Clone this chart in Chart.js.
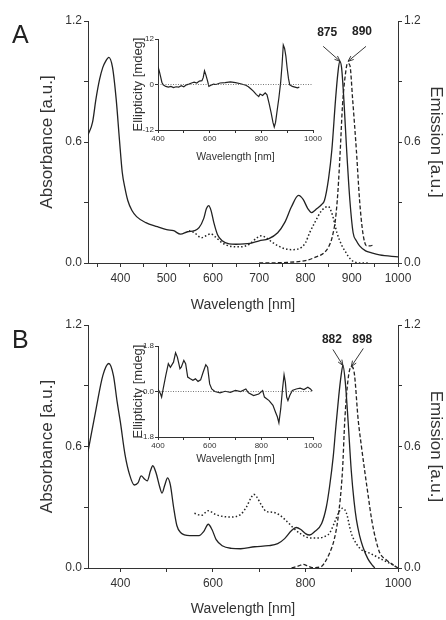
<!DOCTYPE html>
<html>
<head>
<meta charset="utf-8">
<script src="https://cdn.jsdelivr.net/npm/chart.js@4/dist/chart.umd.min.js"></script>
<style>
  html, body { margin: 0; padding: 0; background: #fff; }
  #wrap { position: relative; width: 446px; height: 620px; overflow: hidden; background: #fff; }
  canvas { position: absolute; }
  .panel { position: absolute; font-family: 'Liberation Sans', Arial, sans-serif; font-size: 25px; line-height: 25px; color: #222; }
</style>
</head>
<body>
<div id="wrap">
  <canvas id="mainA" width="446" height="320" style="left:0;top:0"></canvas>
  <canvas id="mainB" width="446" height="320" style="left:0;top:300px"></canvas>
  <canvas id="insetA" width="225" height="145" style="left:100px;top:25px"></canvas>
  <canvas id="insetB" width="225" height="145" style="left:100px;top:330px"></canvas>
  <div class="panel" style="left:12px;top:22px">A</div>
  <div class="panel" style="left:12px;top:327px">B</div>
</div>
<script>
// ---------------- DATA ----------------
// Panel A – absorbance (solid)
const absA_nm  = [330,340,347,355,362,368,375,383,391,398,404,410,416,425,435,455,480,500,515,530,545,560,570,580,586,591,596,602,610,620,635,650,680,700,720,740,755,770,785,795,805,813,825,835,841,850,857,865,870,874,878,883,889,896,903,910,917,930,943,960,1000];
const absA_val = [0.635,0.70,0.81,0.91,0.97,1.00,1.02,0.97,0.81,0.61,0.45,0.37,0.31,0.26,0.23,0.20,0.18,0.165,0.16,0.143,0.155,0.16,0.175,0.22,0.27,0.285,0.26,0.2,0.14,0.11,0.095,0.093,0.097,0.11,0.12,0.15,0.2,0.28,0.335,0.315,0.27,0.25,0.27,0.29,0.31,0.42,0.56,0.81,0.94,1.0,0.97,0.81,0.56,0.31,0.15,0.11,0.085,0.06,0.05,0.04,0.03];
// Panel A – excitation (dotted)
const excA_nm  = [548,560,575,585,595,605,620,640,660,680,695,705,715,730,750,770,785,800,809,820,835,849,858,868,878,888,897,906,920,935];
const excA_val = [0.16,0.15,0.125,0.135,0.145,0.13,0.10,0.082,0.08,0.095,0.125,0.135,0.125,0.10,0.075,0.066,0.07,0.10,0.15,0.20,0.26,0.28,0.24,0.15,0.09,0.05,0.02,0.005,0.0,0.0];
// Panel A – emission (dashed)
const emA_nm  = [700,760,800,823,840,850,858,865,870,875,880,886,891,896,902,910,917,924,932,940,947];
const emA_val = [0.0,0.003,0.012,0.03,0.05,0.08,0.13,0.22,0.35,0.55,0.78,0.93,0.99,0.98,0.81,0.56,0.31,0.15,0.085,0.085,0.09];

// Panel B – absorbance (solid)
const absB_nm  = [330,347,362,375,385,393,400,410,420,430,438,445,452,458,465,470,477,485,490,496,502,508,515,522,530,550,570,580,590,598,607,620,640,660,690,720,740,755,770,780,790,800,809,820,835,845,852,860,865,872,877,881,886,892,899,905,910,917,924,935,946,950];
const absB_val = [0.575,0.78,0.95,1.01,0.95,0.82,0.72,0.56,0.46,0.41,0.42,0.455,0.44,0.43,0.48,0.505,0.47,0.40,0.37,0.41,0.445,0.41,0.30,0.21,0.175,0.16,0.16,0.18,0.216,0.19,0.14,0.11,0.097,0.095,0.105,0.11,0.12,0.145,0.185,0.20,0.19,0.17,0.163,0.18,0.22,0.30,0.40,0.55,0.68,0.85,0.95,1.0,0.92,0.73,0.48,0.33,0.24,0.16,0.105,0.045,0.01,0.0];
// Panel B – excitation (dotted)
const excB_nm  = [560,575,590,605,620,640,660,672,682,688,695,705,715,730,745,760,775,790,811,830,845,852,862,872,880,888,899,910,921,939,967,985,1000];
const excB_val = [0.27,0.26,0.283,0.265,0.255,0.252,0.265,0.30,0.345,0.364,0.35,0.31,0.28,0.275,0.26,0.23,0.195,0.168,0.148,0.148,0.16,0.172,0.22,0.275,0.295,0.275,0.172,0.12,0.09,0.073,0.04,0.02,0.0];
// Panel B – emission (dashed)
const emB_nm  = [770,785,795,805,815,834,845,852,862,870,880,885,892,899,905,914,921,928,936,943,952,961,975,993,1000];
const emB_val = [0.0,0.01,0.018,0.01,0.002,0.007,0.04,0.073,0.14,0.24,0.48,0.73,0.93,0.995,0.97,0.73,0.60,0.48,0.35,0.24,0.14,0.073,0.04,0.01,0.0];

// Inset A – CD spectrum
const cdA_nm  = [400,405,410,415,420,430,440,450,460,470,480,490,500,510,520,530,540,550,560,570,575,580,585,592,597,605,615,625,640,660,680,700,720,740,750,760,770,780,790,795,805,815,822,830,838,845,850,855,860,868,875,880,885,890,895,900,905,910,920,930,940,947];
const cdA_val = [4.7,3.5,2.1,0.6,-0.1,-0.5,-0.7,-0.5,-0.8,-0.6,-0.7,-0.3,-0.6,-0.1,0.1,0.4,0.6,0.4,0.9,1.0,1.8,3.6,2.6,0.9,-0.5,-0.2,0.1,0.0,0.4,0.5,0.7,0.5,0.2,-0.2,-0.6,-1.2,-1.8,-2.6,-3.2,-2.5,-2.9,-2.2,-2.7,-5,-7.5,-10,-11.2,-10,-7.5,-3.5,0.7,5,10.4,9.5,7.5,4.3,1.6,-0.1,-0.5,-0.7,-0.9,-0.7];
// Inset B – CD spectrum
const cdB_nm  = [400,410,414,420,430,440,448,460,468,475,485,490,500,507,515,525,535,545,555,565,575,585,592,600,608,620,640,660,680,700,720,740,750,770,790,805,812,830,845,855,862,868,875,882,888,893,898,903,910,920,935,950,965,980,990,997];
const cdB_val = [0.1,-0.1,-0.22,0.1,0.63,1.1,0.96,1.16,1.53,1.36,0.9,0.96,1.23,1.1,0.57,0.5,0.44,0.5,0.4,0.46,0.77,1.06,0.96,0.3,0.1,0.0,-0.05,0.01,-0.03,0.04,0.0,0.1,-0.05,-0.16,-0.1,0.04,-0.22,-0.36,-0.55,-0.82,-1.0,-1.24,-0.69,0.1,0.66,0.37,-0.22,-0.36,-0.16,0.04,0.1,0.13,0.08,0.17,0.1,0.01];

// Axis ticks / labels
const mainYTicks   = [0, 0.3, 0.6, 0.9, 1.2];
const mainYLabels  = [0, 0.6, 1.2];
const xTicksA      = [350,400,450,500,550,600,650,700,750,800,850,900,950,1000];
const xLabelsA     = [400,500,600,700,800,900,1000];
const xTicksB      = [400,500,600,700,800,900,1000];
const xLabelsB     = [400,600,800,1000];
const insetXTicks  = [400,500,600,700,800,900,1000];
const insetXLabels = [400,600,800,1000];
const insetYTicksA = [-12, 0, 12];
const insetYTicksB = [-1.8, 0, 1.8];

// Peak annotations
const peaksA = [{nm: 875, val: 1.0, text: '875', axis: 'y'}, {nm: 892, val: 1.0, text: '890', axis: 'y2'}];
const peaksB = [{nm: 881, val: 1.0, text: '882', axis: 'y'}, {nm: 899, val: 0.995, text: '898', axis: 'y2'}];

// ---------------- DRAWING ----------------
const FONT = "'Liberation Sans', Arial, sans-serif";
Chart.defaults.font.family = FONT;
Chart.defaults.color = '#333';
const INK = '#222';
const AXIS = '#333';

const xy = (nm, v) => nm.map((x, i) => ({x, y: v[i]}));
const has = (arr, v) => arr.some(a => Math.abs(a - v) < 1e-6);

const peakPlugin = {
  id: 'peakLabels',
  afterDatasetsDraw(chart, args, opts) {
    if (!opts || !opts.items) return;
    const ctx = chart.ctx;
    const xs = chart.scales.x;
    ctx.save();
    ctx.strokeStyle = INK; ctx.fillStyle = INK; ctx.lineWidth = 0.9;
    ctx.font = 'bold 12px ' + FONT;
    ctx.textAlign = 'center'; ctx.textBaseline = 'middle';
    opts.items.forEach((p, i) => {
      const st = opts.styles[i];
      const tx = xs.getPixelForValue(p.nm);
      const ty = chart.scales[p.axis].getPixelForValue(p.val);
      const sx = tx + st.tail[0], sy = ty + st.tail[1];
      ctx.beginPath(); ctx.moveTo(sx, sy); ctx.lineTo(tx, ty); ctx.stroke();
      const ang = Math.atan2(ty - sy, tx - sx);
      const L = 6, a = 0.38;
      ctx.beginPath();
      ctx.moveTo(tx - L * Math.cos(ang - a), ty - L * Math.sin(ang - a));
      ctx.lineTo(tx, ty);
      ctx.lineTo(tx - L * Math.cos(ang + a), ty - L * Math.sin(ang + a));
      ctx.stroke();
      ctx.fillText(p.text, tx + st.text[0], ty + st.text[1]);
    });
    ctx.restore();
  }
};

function axisCommon(extra) {
  return Object.assign({
    grid: {display: true, drawOnChartArea: false, drawTicks: true, tickLength: 4, color: AXIS, lineWidth: 1},
    border: {display: true, color: AXIS, width: 1}
  }, extra);
}

function mainChart(id, sets, cfg) {
  return new Chart(document.getElementById(id), {
    type: 'line',
    data: {datasets: sets},
    plugins: [peakPlugin],
    options: {
      responsive: false, animation: false, devicePixelRatio: 1,
      layout: {padding: {top: cfg.padTop, left: 0, right: 0, bottom: 0}},
      plugins: {legend: {display: false}, tooltip: {enabled: false},
        peakLabels: {items: cfg.peaks, styles: cfg.peakStyles}},
      elements: {point: {radius: 0}},
      scales: {
        x: axisCommon({
          type: 'linear', min: 330, max: 1000,
          afterBuildTicks: s => { s.ticks = cfg.xTicks.map(v => ({value: v})); },
          afterFit: s => { s.height = cfg.xHeight; },
          ticks: {autoSkip: false, maxRotation: 0, minRotation: 0, padding: 4, font: {size: 12}, color: AXIS,
            callback: v => has(cfg.xLabels, v) ? String(v) : ''},
          title: {display: true, text: 'Wavelength [nm]', font: {size: 14}, color: AXIS, padding: {top: 0, bottom: cfg.xTitlePad}}
        }),
        y: axisCommon({
          type: 'linear', position: 'left', min: 0, max: 1.2,
          afterBuildTicks: s => { s.ticks = mainYTicks.map(v => ({value: v})); },
          afterFit: s => { s.width = 88; },
          ticks: {padding: 2, font: {size: 12}, color: AXIS,
            callback: v => has(mainYLabels, v) ? v.toFixed(1) : ''},
          title: {display: true, text: 'Absorbance [a.u.]', font: {size: 17}, color: AXIS, padding: {top: 37, bottom: 0}}
        }),
        y2: axisCommon({
          type: 'linear', position: 'right', min: 0, max: 1.2,
          afterBuildTicks: s => { s.ticks = mainYTicks.map(v => ({value: v})); },
          afterFit: s => { s.width = 48; },
          ticks: {padding: 2, font: {size: 12}, color: AXIS,
            callback: v => has(mainYLabels, v) ? v.toFixed(1) : ''},
          title: {display: true, text: 'Emission [a.u.]', font: {size: 17}, color: AXIS, padding: {top: 0, bottom: 0}}
        })
      }
    }
  });
}

function insetChart(id, sets, cfg) {
  return new Chart(document.getElementById(id), {
    type: 'line',
    data: {datasets: sets},
    options: {
      responsive: false, animation: false, devicePixelRatio: 1,
      layout: {padding: {top: cfg.padTop, left: 0, right: 12, bottom: 0}},
      plugins: {legend: {display: false}, tooltip: {enabled: false}},
      elements: {point: {radius: 0}},
      scales: {
        x: axisCommon({
          type: 'linear', min: 400, max: 1000,
          grid: {display: true, drawOnChartArea: false, drawTicks: true, tickLength: 3, color: AXIS, lineWidth: 1},
          afterBuildTicks: s => { s.ticks = insetXTicks.map(v => ({value: v})); },
          afterFit: s => { s.height = cfg.xHeight; },
          ticks: {autoSkip: false, maxRotation: 0, minRotation: 0, padding: 1, font: {size: 8}, color: AXIS,
            callback: v => has(insetXLabels, v) ? String(v) : ''},
          title: {display: true, text: 'Wavelength [nm]', font: {size: 10.5}, color: AXIS, padding: {top: 0, bottom: cfg.xTitlePad}}
        }),
        y: axisCommon({
          type: 'linear', position: 'left', min: cfg.yTicks[0], max: cfg.yTicks[cfg.yTicks.length - 1],
          grid: {display: true, drawOnChartArea: false, drawTicks: true, tickLength: 3, color: AXIS, lineWidth: 1},
          afterBuildTicks: s => { s.ticks = cfg.yTicks.map(v => ({value: v})); },
          afterFit: s => { s.width = 58; },
          ticks: {padding: 1, font: {size: 8}, color: AXIS, callback: cfg.yFmt},
          title: {display: true, text: 'Ellipticity [mdeg]', font: {size: 13}, color: AXIS, padding: {top: 31, bottom: 0}}
        })
      }
    }
  });
}

const solid  = (d, axis) => ({data: d, yAxisID: axis || 'y', borderColor: INK, borderWidth: 1.3, cubicInterpolationMode: 'monotone', fill: false});
const dotted = (d, axis) => ({data: d, yAxisID: axis || 'y', borderColor: INK, borderWidth: 1.5, borderDash: [1.5, 2.2], cubicInterpolationMode: 'monotone', fill: false});
const dashed = (d, axis) => ({data: d, yAxisID: axis || 'y', borderColor: INK, borderWidth: 1.3, borderDash: [4, 2.2], cubicInterpolationMode: 'monotone', fill: false});

mainChart('mainA', [
  solid(xy(absA_nm, absA_val)),
  dotted(xy(excA_nm, excA_val)),
  dashed(xy(emA_nm, emA_val), 'y2')
], {padTop: 21, xHeight: 57, xTitlePad: 6, xTicks: xTicksA, xLabels: xLabelsA, peaks: peaksA,
    peakStyles: [{tail: [-17, -15], text: [-13, -29]}, {tail: [18, -15], text: [14, -30]}]});

mainChart('mainB', [
  solid(xy(absB_nm, absB_val)),
  dotted(xy(excB_nm, excB_val)),
  dashed(xy(emB_nm, emB_val), 'y2')
], {padTop: 25, xHeight: 52, xTitlePad: 2.5, xTicks: xTicksB, xLabels: xLabelsB, peaks: peaksB,
    peakStyles: [{tail: [-10, -16], text: [-11, -26]}, {tail: [12, -18], text: [11, -27]}]});

const zeroLine = {data: [{x: 400, y: 0}, {x: 1000, y: 0}], borderColor: '#555', borderWidth: 0.8, borderDash: [1, 1.5], fill: false};
const cdLine = d => ({data: d, borderColor: INK, borderWidth: 1.2, tension: 0, fill: false});

insetChart('insetA', [zeroLine, cdLine(xy(cdA_nm, cdA_val))],
  {padTop: 14, xHeight: 40, xTitlePad: 6.5, yTicks: insetYTicksA, yFmt: v => String(v)});
insetChart('insetB', [Object.assign({}, zeroLine), cdLine(xy(cdB_nm, cdB_val))],
  {padTop: 16, xHeight: 38, xTitlePad: 10, yTicks: insetYTicksB, yFmt: v => v.toFixed(1)});
</script>
</body>
</html>
